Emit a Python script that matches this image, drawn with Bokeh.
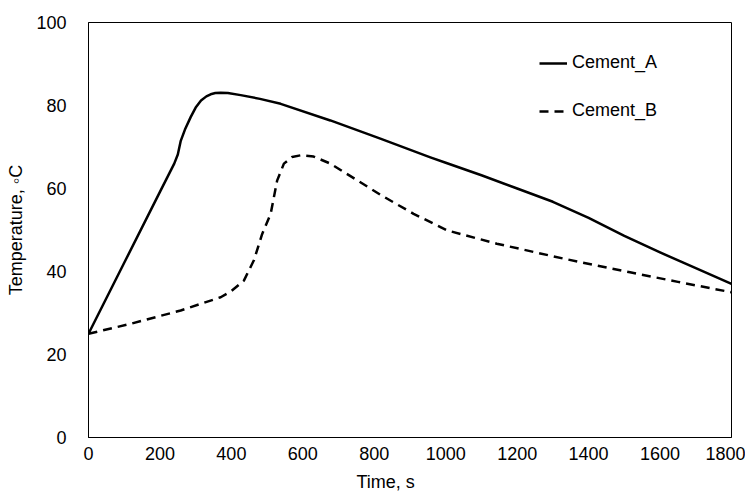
from bokeh.plotting import figure
from bokeh.models import Range1d, Legend, LegendItem, FixedTicker, Title
from bokeh.embed import file_html
from bokeh.resources import INLINE

# Data
time_a = [0, 100, 200, 240, 250, 258, 270, 286, 300, 315, 330, 342, 355, 370, 390, 426, 480, 538,
          677, 817, 957, 1000, 1100, 1200, 1300, 1400, 1500, 1600, 1700, 1800]
temp_a = [25, 42.1, 59.2, 66.0, 68.2, 71.4, 74.2, 77.2, 79.5, 81.2, 82.2, 82.7, 83.0, 83.1, 83.0, 82.5, 81.6, 80.4,
          76.4, 72.0, 67.5, 66.2, 63.2, 60.0, 56.8, 52.9, 48.6, 44.6, 40.8, 37.0]

time_b = [0, 118, 258, 370, 400, 435, 463, 486, 510, 528, 547, 570, 594, 630, 677, 817, 910, 1004, 1143,
          1330, 1516, 1650, 1800]
temp_b = [25, 27.4, 30.6, 33.8, 35.3, 37.8, 42.7, 49, 53.9, 61.9, 66, 67.6, 68, 67.7, 66, 58.5, 53.9, 49.9, 46.7,
          43.1, 39.8, 37.5, 35]

x_ticks = [0, 200, 400, 600, 800, 1000, 1200, 1400, 1600, 1800]
y_ticks = [0, 20, 40, 60, 80, 100]

FONT = "Liberation Sans"

p = figure(width=745, height=501, output_backend="svg", toolbar_location=None,
           x_range=Range1d(0, 1800), y_range=Range1d(0, 100),
           min_border_left=88, min_border_right=14, min_border_top=22, min_border_bottom=64)

p.xgrid.visible = False
p.ygrid.visible = False
p.outline_line_color = "black"
p.outline_line_width = 1
p.background_fill_color = "white"
p.border_fill_color = "white"

for ax in (p.xaxis[0], p.yaxis[0]):
    ax.axis_line_color = "black"
    ax.major_tick_line_color = None
    ax.minor_tick_line_color = None
    ax.major_label_text_font = FONT
    ax.major_label_text_font_size = "18px"
    ax.major_label_text_color = "black"
    ax.axis_label_text_font = FONT
    ax.axis_label_text_font_size = "18px"
    ax.axis_label_text_font_style = "normal"
    ax.axis_label_text_color = "black"

p.xaxis.ticker = FixedTicker(ticks=x_ticks)
p.yaxis.ticker = FixedTicker(ticks=y_ticks)
p.yaxis.axis_label = "Temperature, \u25e6C"
p.xaxis.major_label_standoff = 3
p.yaxis.major_label_standoff = 16
p.yaxis.axis_label_standoff = 7

# x-axis title, placed left of centre as in the reference
p.add_layout(Title(text="Time, s", align="left", offset=268, standoff=14,
                   text_font=FONT, text_font_size="18px", text_font_style="normal",
                   text_color="black"), "below")

ra = p.line(time_a, temp_a, line_color="black", line_width=2.5, line_join="round")
rb = p.line(time_b, temp_b, line_color="black", line_width=2.5, line_dash="9 6", line_join="round")

legend = Legend(items=[LegendItem(label="Cement_A", renderers=[ra]),
                       LegendItem(label="Cement_B", renderers=[rb])],
                location=(451, 316), padding=0, margin=0, spacing=27,
                glyph_width=28, glyph_height=20, label_height=20, label_standoff=5,
                border_line_color=None, background_fill_alpha=0,
                label_text_font=FONT, label_text_font_size="18px", label_text_color="black")
p.add_layout(legend)

open("out.html", "w").write(file_html(p, INLINE))
